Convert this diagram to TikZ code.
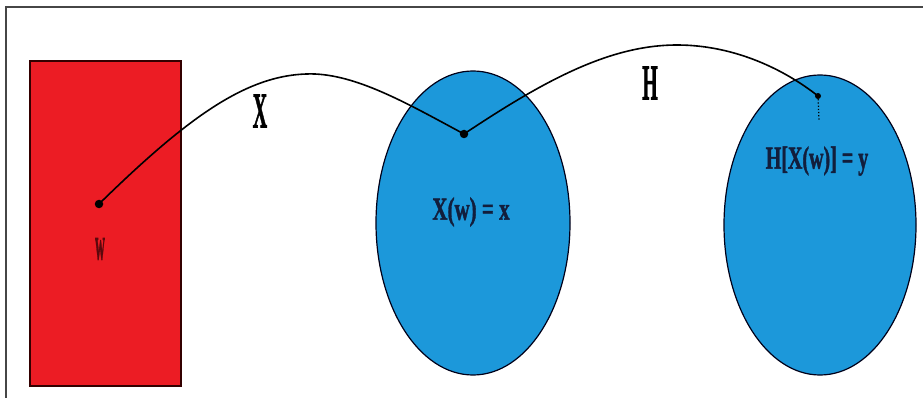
\documentclass[tikz,border=0pt]{standalone}
\usepackage{fontspec}
\setmainfont{Liberation Serif}
\newfontfamily\heavyfont[FakeBold=1.6]{Liberation Serif}
\usepackage{graphicx}
\definecolor{paintred}{RGB}{236,28,36}
\definecolor{paintblue}{RGB}{28,152,218}
\definecolor{inkblue}{RGB}{18,30,60}
\definecolor{inkred}{RGB}{90,8,12}
\definecolor{framegray}{RGB}{70,70,70}
\begin{document}
\begin{tikzpicture}[x=1pt,y=-1pt,
  setbox/.style={draw=black!80!red, fill=paintred, line width=1.3pt},
  ellset/.style={draw=black!90!blue, fill=paintblue, line width=1.2pt},
  pt/.style={circle, fill=black, inner sep=0pt, minimum size=8.5pt},
  mapline/.style={draw=black, line width=1.6pt},
  lbl/.style={inner sep=0pt, font=\heavyfont\bfseries\fontsize{20}{20}\selectfont}
]
\useasboundingbox (0,0) rectangle (923,398);
\fill[white] (0,0) rectangle (923,398);
% frame
\draw[framegray, line width=1.5pt] (6,398) -- (6,7) -- (923,7);
% sets
\node[setbox, minimum width=151pt, minimum height=325pt, inner sep=0pt] (omega) at (105.5,223.5) {};
\coordinate (xset) at (473,223);
\draw[ellset] (xset) ellipse [x radius=97, y radius=152];
\coordinate (yset) at (820,225);
\draw[ellset] (yset) ellipse [x radius=96, y radius=150];
% points
\node[pt] (w) at (99,204) {};
\node[pt] (x) at (464,134) {};
\node[pt, minimum size=6pt] (y) at (818,96) {};
\coordinate (ytick) at (819,121);
\draw[black, line width=1.2pt, dotted] (y) -- (ytick);
% mappings
\draw[mapline] (w.center) .. controls (190,115) and (250,72) .. (315,74)
  .. controls (360,76) and (410,105) .. (x.center);
\draw[mapline] (x.center) .. controls (545,80) and (610,45) .. (677,45)
  .. controls (735,45) and (785,70) .. (y.center);
% labels
\node[lbl, text=black] (lX) at (260,111) {\scalebox{1}[2.5]{X}};
\node[lbl, text=black] (lH) at (650,83) {\scalebox{1}[2.5]{H}};
\node[lbl, text=inkred] (lw) at (100,249) {\scalebox{0.75}[2.6]{\fontsize{18}{18}\selectfont w}};
\node[lbl, text=inkblue] (lx) at (471,212) {\scalebox{1.05}[1.6]{X(w) = x}};
\node[lbl, text=inkblue] (ly) at (817,161) {\scalebox{1.0}[1.6]{H[X(w)] = y}};
\end{tikzpicture}
\end{document}
